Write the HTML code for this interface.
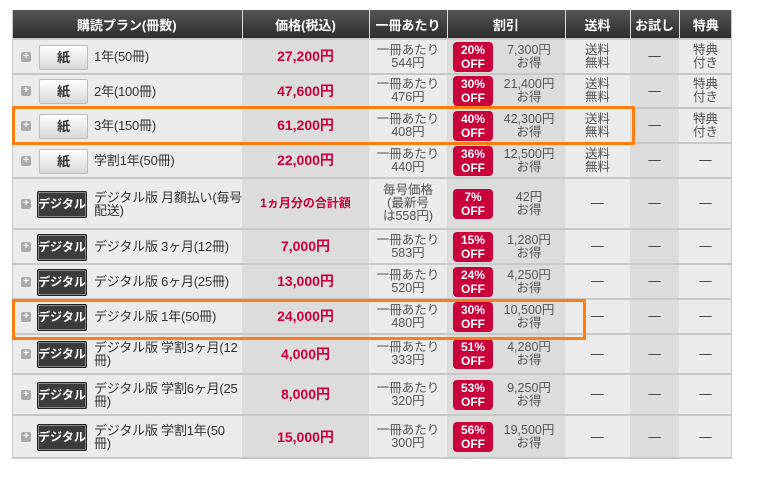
<!DOCTYPE html>
<html><head><meta charset="utf-8"><style>
body{margin:0;background:#fff;width:768px;height:481px;position:relative;overflow:hidden;font-family:"Liberation Sans","Noto Sans CJK JP",sans-serif;}
table{position:absolute;left:12px;top:10px;border-collapse:collapse;table-layout:fixed;width:720px;font-size:12.5px;color:#333;}
th{background:linear-gradient(#555,#2e2e2e);color:#fff;font-weight:bold;height:28px;font-size:13px;border-left:1px solid #ddd;padding:0}
th:first-child{border-left:none}
td{border-top:2px solid #c8c8c8;padding:0;text-align:center;line-height:13px;background:#ebebeb}
td.d{background:#dcdcdc}
td.n{text-align:left;position:relative;padding-left:82px;font-size:13px;white-space:nowrap;letter-spacing:-0.2px}
.p{color:#c8003c;font-weight:bold;font-size:14px}
.pl{position:absolute;left:9px;top:50%;margin-top:-5px;width:10px;height:10px;background:#aaa;border-radius:2px;color:#fff;font-size:10px;line-height:10px;text-align:center;font-weight:bold}
.b{position:absolute;left:27px;top:50%;margin-top:-12px;width:47px;height:23px;border:1px solid #bbb;border-radius:2px;background:linear-gradient(#fff,#d8d8d8);font-weight:bold;font-size:13px;line-height:23px;text-align:center;color:#333;letter-spacing:0}
.dg{left:25px;width:48px;background:#3c3c3c;border:1px solid #222;box-shadow:inset 0 0 0 1px #888;color:#fff;font-size:12px;margin-top:-13px;height:25px;line-height:25px}
.off{display:inline-block;width:40px;height:30px;background:#c8003c;color:#fff;font-weight:bold;border-radius:4px;font-size:12px;line-height:14px;padding-top:1px;box-sizing:border-box;vertical-align:middle}
.disc{display:flex;align-items:center;padding-left:6px}
.disc span.t{flex:1;color:#555}
.g{color:#555}
.o{position:absolute;border:3px solid #ff7f0e;box-sizing:border-box}
</style></head><body>
<table>
<colgroup><col style="width:230px"><col style="width:127px"><col style="width:78px"><col style="width:118px"><col style="width:65px"><col style="width:49px"><col style="width:53px"></colgroup>
<tr><th>購読プラン(冊数)</th><th>価格(税込)</th><th>一冊あたり</th><th>割引</th><th>送料</th><th>お試し</th><th>特典</th></tr>
<tr style="height:35px"><td class="n"><span class="pl">+</span><span class="b">紙</span>1年(50冊)</td><td class="d p">27,200円</td><td class="g">一冊あたり<br>544円</td><td class="d"><div class="disc"><span class="off">20%<br>OFF</span><span class="t">7,300円<br>お得</span></div></td><td class="g">送料<br>無料</td><td class="d">—</td><td class="g">特典<br>付き</td></tr>
<tr style="height:34px"><td class="n"><span class="pl">+</span><span class="b">紙</span>2年(100冊)</td><td class="d p">47,600円</td><td class="g">一冊あたり<br>476円</td><td class="d"><div class="disc"><span class="off">30%<br>OFF</span><span class="t">21,400円<br>お得</span></div></td><td class="g">送料<br>無料</td><td class="d">—</td><td class="g">特典<br>付き</td></tr>
<tr style="height:35px"><td class="n"><span class="pl">+</span><span class="b">紙</span>3年(150冊)</td><td class="d p">61,200円</td><td class="g">一冊あたり<br>408円</td><td class="d"><div class="disc"><span class="off">40%<br>OFF</span><span class="t">42,300円<br>お得</span></div></td><td class="g">送料<br>無料</td><td class="d">—</td><td class="g">特典<br>付き</td></tr>
<tr style="height:35px"><td class="n"><span class="pl">+</span><span class="b">紙</span>学割1年(50冊)</td><td class="d p">22,000円</td><td class="g">一冊あたり<br>440円</td><td class="d"><div class="disc"><span class="off">36%<br>OFF</span><span class="t">12,500円<br>お得</span></div></td><td class="g">送料<br>無料</td><td class="d">—</td><td>—</td></tr>
<tr style="height:51px"><td class="n"><span class="pl">+</span><span class="b dg">デジタル</span>デジタル版 月額払い(毎号<br>配送)</td><td class="d p" style="font-size:12px">1ヵ月分の合計額</td><td class="g">毎号価格<br>(最新号<br>は558円)</td><td class="d"><div class="disc"><span class="off">7%<br>OFF</span><span class="t">42円<br>お得</span></div></td><td>—</td><td class="d">—</td><td>—</td></tr>
<tr style="height:35px"><td class="n"><span class="pl">+</span><span class="b dg">デジタル</span>デジタル版 3ヶ月(12冊)</td><td class="d p">7,000円</td><td class="g">一冊あたり<br>583円</td><td class="d"><div class="disc"><span class="off">15%<br>OFF</span><span class="t">1,280円<br>お得</span></div></td><td>—</td><td class="d">—</td><td>—</td></tr>
<tr style="height:35px"><td class="n"><span class="pl">+</span><span class="b dg">デジタル</span>デジタル版 6ヶ月(25冊)</td><td class="d p">13,000円</td><td class="g">一冊あたり<br>520円</td><td class="d"><div class="disc"><span class="off">24%<br>OFF</span><span class="t">4,250円<br>お得</span></div></td><td>—</td><td class="d">—</td><td>—</td></tr>
<tr style="height:35px"><td class="n"><span class="pl">+</span><span class="b dg">デジタル</span>デジタル版 1年(50冊)</td><td class="d p">24,000円</td><td class="g">一冊あたり<br>480円</td><td class="d"><div class="disc"><span class="off">30%<br>OFF</span><span class="t">10,500円<br>お得</span></div></td><td>—</td><td class="d">—</td><td>—</td></tr>
<tr style="height:40px"><td class="n"><span class="pl">+</span><span class="b dg">デジタル</span>デジタル版 学割3ヶ月(12<br>冊)</td><td class="d p">4,000円</td><td class="g">一冊あたり<br>333円</td><td class="d"><div class="disc"><span class="off">51%<br>OFF</span><span class="t">4,280円<br>お得</span></div></td><td>—</td><td class="d">—</td><td>—</td></tr>
<tr style="height:41px"><td class="n"><span class="pl">+</span><span class="b dg">デジタル</span>デジタル版 学割6ヶ月(25<br>冊)</td><td class="d p">8,000円</td><td class="g">一冊あたり<br>320円</td><td class="d"><div class="disc"><span class="off">53%<br>OFF</span><span class="t">9,250円<br>お得</span></div></td><td>—</td><td class="d">—</td><td>—</td></tr>
<tr style="height:43px"><td class="n"><span class="pl">+</span><span class="b dg">デジタル</span>デジタル版 学割1年(50<br>冊)</td><td class="d p">15,000円</td><td class="g">一冊あたり<br>300円</td><td class="d"><div class="disc"><span class="off">56%<br>OFF</span><span class="t">19,500円<br>お得</span></div></td><td>—</td><td class="d">—</td><td>—</td></tr>
</table>
<div style="position:absolute;left:12px;top:457px;width:720px;height:2px;background:#c8c8c8"></div>
<div style="position:absolute;left:12px;top:10px;width:1px;height:449px;background:#c8c8c8"></div>
<div style="position:absolute;left:731px;top:10px;width:1px;height:449px;background:#c8c8c8"></div>
<div class="o" style="left:12px;top:106px;width:623px;height:39px"></div>
<div class="o" style="left:12px;top:299px;width:574px;height:41px"></div>
</body></html>
